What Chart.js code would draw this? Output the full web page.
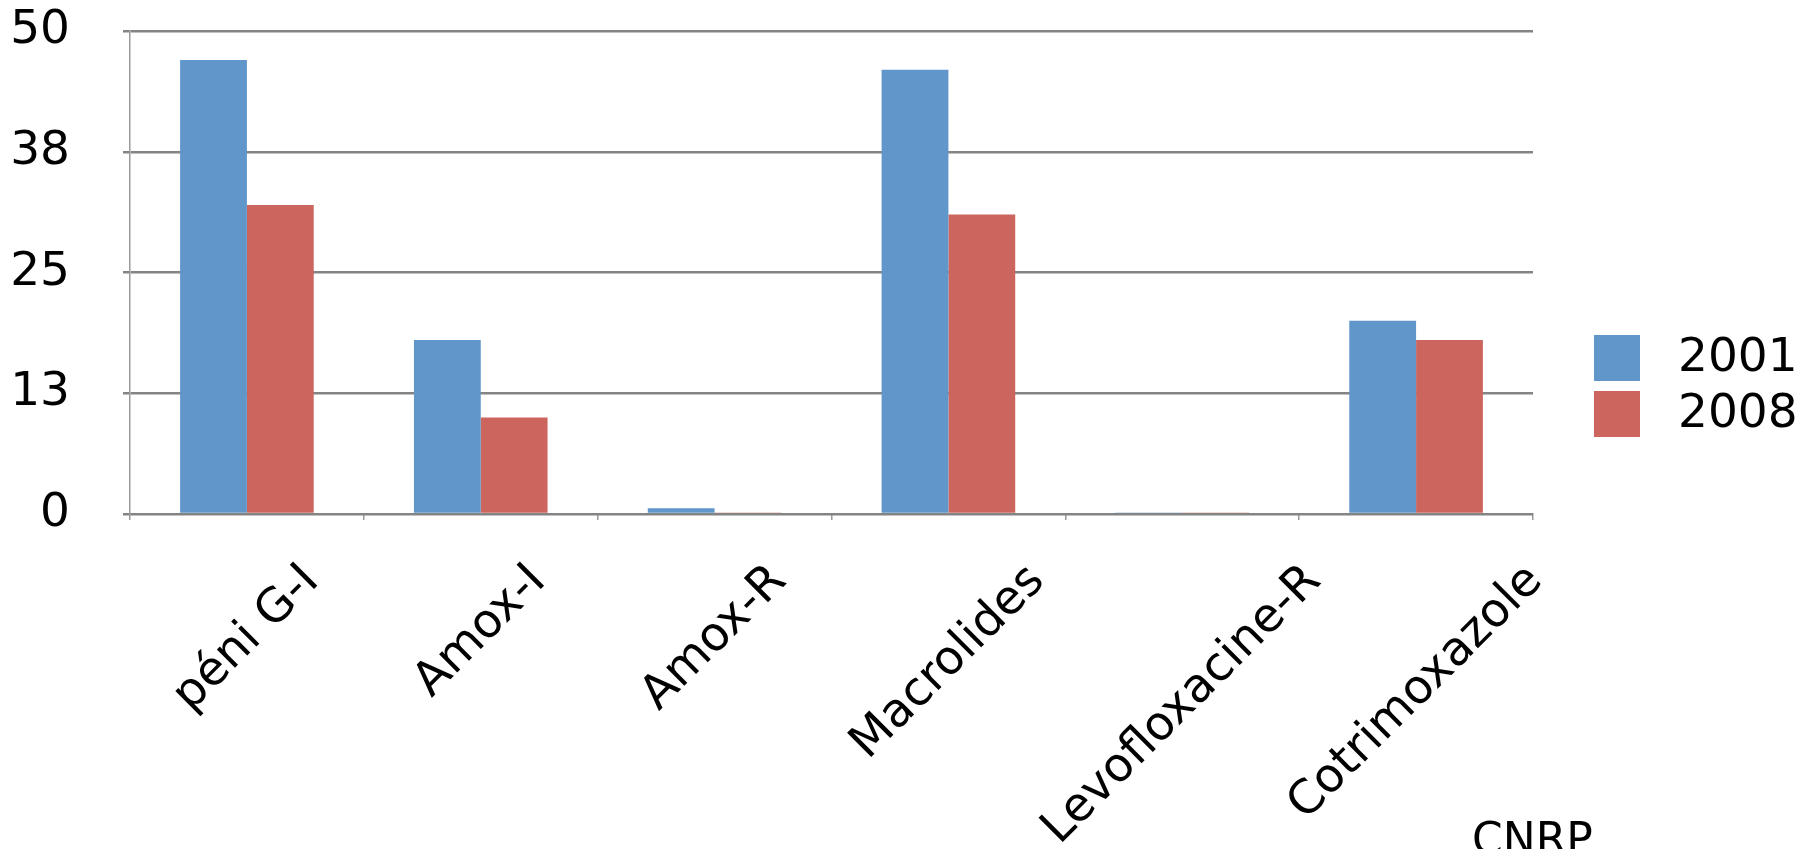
<!DOCTYPE html>
<html>
<head>
<meta charset="utf-8">
<script src="https://cdn.jsdelivr.net/npm/chart.js@4/dist/chart.umd.min.js"></script>
<style>
  html, body { margin: 0; padding: 0; background: #ffffff; }
  #wrap { position: relative; width: 1799px; height: 849px; }
</style>
</head>
<body>
<div id="wrap"><canvas id="chart" width="1799" height="849"></canvas></div>
<script>
// Antibiotic resistance categories and the two survey years
const categories = ['péni G-I', 'Amox-I', 'Amox-R', 'Macrolides', 'Levofloxacine-R', 'Cotrimoxazole'];
const seriesNames = ['2001', '2008'];
const values2001 = [47, 18, 0.6, 46, 0.15, 20];
const values2008 = [32, 10, 0.15, 31, 0.15, 18];
const yTickValues = [0, 12.5, 25, 37.5, 50];
const footnote = 'CNRP';

const seriesColors = ['#6096C9', '#CC655E'];
const FONT = 'DejaVu Sans';

// Category labels: rotated 45°, centred under each category, tops aligned
const categoryLabelsPlugin = {
  id: 'categoryLabels',
  afterDraw(chart) {
    const ctx = chart.ctx;
    const x = chart.scales.x;
    const size = 47;
    const top = 558;
    ctx.save();
    ctx.font = size + 'px "' + FONT + '"';
    ctx.fillStyle = '#000000';
    ctx.textAlign = 'center';
    ctx.textBaseline = 'middle';
    categories.forEach((label, i) => {
      const w = ctx.measureText(label).width;
      const h = size * 0.95;
      const half = (w + h) / (2 * Math.SQRT2);
      const cx = x.getPixelForValue(i);
      const cy = top + half;
      ctx.save();
      ctx.translate(cx, cy);
      ctx.rotate(-Math.PI / 4);
      ctx.fillText(label, 0, 0);
      ctx.restore();
    });
    ctx.restore();
  }
};

// Legend on the right plus the source note
const sideLegendPlugin = {
  id: 'sideLegend',
  afterDraw(chart) {
    const ctx = chart.ctx;
    ctx.save();
    const boxX = 1594, box = 46, textX = 1678;
    const boxTops = [335, 391];
    ctx.font = '47px "' + FONT + '"';
    ctx.textAlign = 'left';
    ctx.textBaseline = 'middle';
    chart.data.datasets.forEach((ds, i) => {
      ctx.fillStyle = ds.backgroundColor;
      ctx.fillRect(boxX, boxTops[i], box, box);
      ctx.fillStyle = '#000000';
      ctx.fillText(ds.label, textX, boxTops[i] + box / 2 + 1);
    });
    ctx.font = '44px "' + FONT + '"';
    ctx.textBaseline = 'alphabetic';
    ctx.fillText(footnote, 1472, 854);
    ctx.restore();
  }
};

Chart.defaults.font.family = FONT;
Chart.defaults.color = '#000000';

new Chart(document.getElementById('chart'), {
  type: 'bar',
  data: {
    labels: categories,
    datasets: [
      { label: seriesNames[0], data: values2001, backgroundColor: seriesColors[0] },
      { label: seriesNames[1], data: values2008, backgroundColor: seriesColors[1] }
    ]
  },
  options: {
    responsive: false,
    animation: false,
    devicePixelRatio: 1,
    layout: { padding: { top: 31, right: 266, bottom: 0, left: 0 } },
    datasets: { bar: { categoryPercentage: 2 / 3.5, barPercentage: 1, borderWidth: 0 } },
    plugins: { legend: { display: false }, tooltip: { enabled: false } },
    scales: {
      x: {
        offset: true,
        grid: { offset: true, drawOnChartArea: false, drawTicks: true, tickLength: 6, color: '#9a9a9a', lineWidth: 1.5 },
        border: { display: true, color: '#8e8e8e', width: 2, z: -1 },
        ticks: { display: false },
        afterFit(scale) {
          scale.height = 335;
          scale.paddingLeft = 0;
          scale.paddingRight = 0;
        }
      },
      y: {
        min: 0,
        max: 50,
        afterBuildTicks(scale) { scale.ticks = yTickValues.map(v => ({ value: v })); },
        grid: { color: '#848484', lineWidth: 2.5, drawTicks: true, tickLength: 7, z: -1 },
        border: { display: true, color: '#9a9a9a', width: 1.5 },
        ticks: {
          padding: 53,
          font: { size: 47 },
          callback: (v) => String(Math.round(v))
        },
        afterFit(scale) {
          scale.width = 130;
          scale.paddingTop = 0;
          scale.paddingBottom = 0;
        }
      }
    }
  },
  plugins: [categoryLabelsPlugin, sideLegendPlugin]
});
</script>
</body>
</html>
